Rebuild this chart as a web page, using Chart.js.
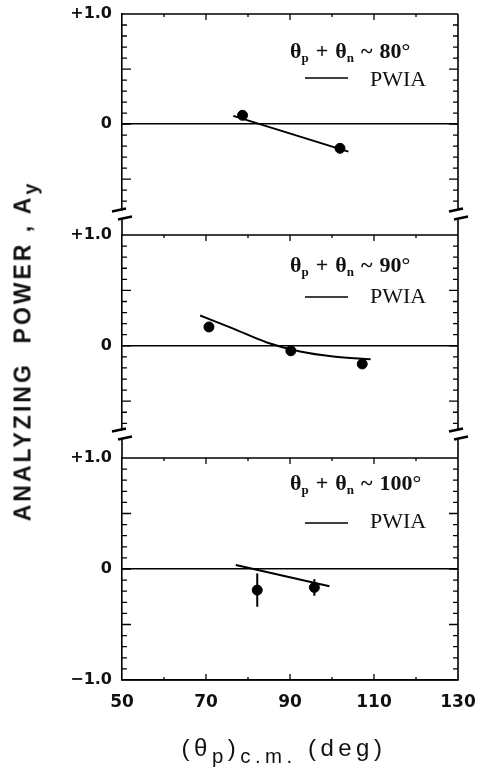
<!DOCTYPE html>
<html>
<head>
<meta charset="utf-8">
<script src="https://cdn.jsdelivr.net/npm/chart.js@4.4.1/dist/chart.umd.min.js"></script>
<style>
  html, body { margin: 0; padding: 0; background: #fff; }
  #wrap { position: relative; width: 478px; height: 767px; overflow: hidden; }
  canvas { position: absolute; left: 0; }
  .ytitle {
    position: absolute; left: 23px; top: 351px;
    transform: translate(-50%, -50%) rotate(-90deg);
    font: bold 23px "Liberation Sans", Arial, sans-serif;
    letter-spacing: 3px; white-space: nowrap; color: #111;
  }
  .xtitle {
    position: absolute; left: 284px; top: 748px;
    transform: translate(-50%, -50%);
    font: 24px "Liberation Sans", Arial, sans-serif;
    letter-spacing: 4.5px; white-space: nowrap; color: #111;
  }
  .sub { font-size: 0.85em; position: relative; top: 0.35em; }
</style>
</head>
<body>
<div id="wrap">
  <canvas id="p80" width="478" height="230" style="top:0px"></canvas>
  <canvas id="p90" width="478" height="226" style="top:212px"></canvas>
  <canvas id="p100" width="478" height="337" style="top:430px"></canvas>
  <div class="ytitle">ANALYZING&nbsp; POWER , A<span class="sub">y</span></div>
  <div class="xtitle">(θ<span class="sub">p</span>)<span class="sub">c.m.</span> (deg)</div>
</div>
<script>
// axis ticks
const xTickValues = [50, 70, 90, 110, 130];
const xTickLabels = ["50", "70", "90", "110", "130"];
const yTickValues = [-1, 0, 1];
const yTickLabels = ["\u22121.0", "0", "+1.0"];

// theta_p + theta_n labels for each panel
const panelSums = ["80\u00b0", "90\u00b0", "100\u00b0"];

// 80 deg
const exp80Theta = [78.7, 101.9];
const exp80Ay = [0.08, -0.22];
const exp80Err = [0.03, 0.03];
const pwia80Theta = [76.5, 103.9];
const pwia80Ay = [0.075, -0.25];

// 90 deg
const exp90Theta = [70.7, 90.2, 107.2];
const exp90Ay = [0.17, -0.045, -0.164];
const exp90Err = [0.03, 0.03, 0.03];
const pwia90Theta = [68.6, 76.5, 84.5, 92.4, 100.3, 109.2];
const pwia90Ay = [0.273, 0.155, 0.03, -0.052, -0.097, -0.121];

// 100 deg
const exp100Theta = [82.2, 95.8];
const exp100Ay = [-0.19, -0.166];
const exp100Err = [0.15, 0.075];
const pwia100Theta = [77.1, 99.4];
const pwia100Ay = [0.036, -0.155];

function pts(xs, ys) {
  return xs.map((x, i) => ({ x: x, y: ys[i] }));
}
function near(a, b) { return Math.abs(a - b) < 1e-6; }

// frame, inward ticks, axis breaks
const framePlugin = {
  id: "frame",
  afterDraw(chart, args, opts) {
    const ctx = chart.ctx;
    const a = chart.chartArea;
    const xs = chart.scales.x, ys = chart.scales.y;
    ctx.save();
    ctx.strokeStyle = "#000";
    ctx.lineWidth = 1.6;
    ctx.beginPath();
    ctx.moveTo(a.left, a.top); ctx.lineTo(a.right, a.top);
    ctx.moveTo(a.right, a.top); ctx.lineTo(a.right, a.bottom);
    if (opts.bottomAxis) { ctx.moveTo(a.left, a.bottom); ctx.lineTo(a.right, a.bottom); }
    if (opts.extTop) {
      ctx.moveTo(a.left, a.top - opts.extTop); ctx.lineTo(a.left, a.top);
      ctx.moveTo(a.right, a.top - opts.extTop); ctx.lineTo(a.right, a.top);
    }
    ctx.stroke();

    // x ticks
    ctx.lineWidth = 1.3;
    ctx.beginPath();
    xs.ticks.forEach(t => {
      const px = xs.getPixelForValue(t.value);
      if (px <= a.left + 1 || px >= a.right - 1) return;
      const len = xTickValues.some(v => near(v, t.value)) ? 6 : 3;
      ctx.moveTo(px, a.top); ctx.lineTo(px, a.top + len);
      if (opts.bottomAxis) { ctx.moveTo(px, a.bottom); ctx.lineTo(px, a.bottom - len); }
    });
    // y ticks
    ys.ticks.forEach(t => {
      const v10 = t.value * 10;
      if (!near(v10, Math.round(v10))) return;
      const py = ys.getPixelForValue(t.value);
      if (py <= a.top + 1 || py >= a.bottom - 1) return;
      const len = near(t.value * 2, Math.round(t.value * 2)) ? 9 : 5;
      ctx.moveTo(a.left, py); ctx.lineTo(a.left + len, py);
      ctx.moveTo(a.right, py); ctx.lineTo(a.right - len, py);
    });
    ctx.stroke();

    // break marks
    ctx.lineWidth = 2.6;
    ctx.beginPath();
    const brk = (x, y, dx) => { ctx.moveTo(x - 7 + dx, y + 1.5); ctx.lineTo(x + 7 + dx, y - 1.5); };
    if (opts.breakBottom) { brk(a.left, a.bottom, -3); brk(a.right, a.bottom, -2); }
    if (opts.extTop) { brk(a.left, a.top - opts.extTop, 3); brk(a.right, a.top - opts.extTop, 3); }
    ctx.stroke();
    ctx.restore();
  }
};

// error bars on the measured points
const errorPlugin = {
  id: "errbars",
  afterDatasetsDraw(chart) {
    const ctx = chart.ctx;
    const xs = chart.scales.x, ys = chart.scales.y;
    ctx.save();
    ctx.strokeStyle = "#000";
    ctx.lineWidth = 2;
    chart.data.datasets.forEach(ds => {
      if (!ds.errorBars) return;
      ds.data.forEach((p, i) => {
        const px = xs.getPixelForValue(p.x);
        ctx.beginPath();
        ctx.moveTo(px, ys.getPixelForValue(p.y + ds.errorBars[i]));
        ctx.lineTo(px, ys.getPixelForValue(p.y - ds.errorBars[i]));
        ctx.stroke();
      });
    });
    ctx.restore();
  }
};

// in-panel label: theta_p + theta_n ~ N deg, and PWIA line key
const labelPlugin = {
  id: "panelLabel",
  afterDraw(chart, args, opts) {
    const ctx = chart.ctx;
    const a = chart.chartArea;
    ctx.save();
    ctx.fillStyle = "#111";
    ctx.textBaseline = "alphabetic";
    ctx.textAlign = "left";
    const big = "bold 22px 'Liberation Serif', 'Times New Roman', serif";
    const small = "bold 13px 'Liberation Serif', 'Times New Roman', serif";
    let x = 290;
    const y = a.top + opts.textY;
    // [text, font, baseline shift, gap before, gap after]
    const parts = [
      ["\u03b8", big, 0, 0, 0], ["p", small, 4, 0, 0], ["+", big, 0, 7, 7], ["\u03b8", big, 0, 0, 0],
      ["n", small, 4, 0, 0], ["~", big, 0, 7, 7], [opts.sum, big, 0, 0, 0],
    ];
    parts.forEach(p => {
      ctx.font = p[1];
      x += p[3];
      ctx.fillText(p[0], x, y + p[2]);
      x += ctx.measureText(p[0]).width + p[4];
    });
    ctx.strokeStyle = "#000";
    ctx.lineWidth = 1.6;
    ctx.beginPath();
    ctx.moveTo(305, a.top + opts.lineY);
    ctx.lineTo(348, a.top + opts.lineY);
    ctx.stroke();
    ctx.font = "22px 'Liberation Serif', 'Times New Roman', serif";
    ctx.fillText("PWIA", 370, a.top + opts.pwiaY);
    ctx.restore();
  }
};

function makePanel(id, cfg) {
  const ctx = document.getElementById(id).getContext("2d");
  return new Chart(ctx, {
    type: "scatter",
    data: {
      datasets: [
        {
          label: "PWIA",
          data: cfg.pwia,
          showLine: true,
          borderColor: "#000",
          borderWidth: 2,
          pointRadius: 0,
          cubicInterpolationMode: "monotone",
          order: 2,
        },
        {
          label: "data",
          data: cfg.exp,
          errorBars: cfg.err,
          showLine: false,
          pointRadius: 5,
          pointBackgroundColor: "#000",
          pointBorderColor: "#000",
          order: 1,
        },
      ],
    },
    options: {
      responsive: false,
      animation: false,
      devicePixelRatio: 1,
      layout: { padding: { left: 0, right: 20, top: cfg.padTop, bottom: cfg.padBottom } },
      plugins: {
        legend: { display: false },
        tooltip: { enabled: false },
        frame: cfg.frame,
        panelLabel: cfg.label,
      },
      scales: {
        x: {
          type: "linear",
          min: 50,
          max: 130,
          display: cfg.showX,
          border: { display: true, color: "#000", width: 1.6 },
          grid: { display: false, drawTicks: false },
          ticks: {
            stepSize: 10,
            autoSkip: false,
            maxRotation: 0,
            padding: 12,
            color: "#111",
            font: { family: "'DejaVu Sans', sans-serif", size: 17, weight: "bold" },
            callback: v => {
              const i = xTickValues.findIndex(t => near(t, v));
              return i >= 0 ? xTickLabels[i] : "";
            },
          },
          afterFit: s => {
            s.paddingLeft = 0;
            s.paddingRight = 0;
            if (cfg.showX) s.height = 87;
          },
        },
        y: {
          type: "linear",
          min: cfg.yMin,
          max: 1,
          border: { display: true, color: "#000", width: 1.6 },
          grid: {
            drawTicks: false,
            lineWidth: 1.6,
            color: c => (c.tick && near(c.tick.value, 0) ? "#000" : "rgba(0,0,0,0)"),
          },
          ticks: {
            stepSize: 0.1,
            autoSkip: false,
            includeBounds: false,
            padding: 10,
            color: "#111",
            font: { family: "'DejaVu Sans', sans-serif", size: 16, weight: "bold" },
            callback: v => {
              const i = yTickValues.findIndex(t => near(t, v));
              return i >= 0 ? yTickLabels[i] : "";
            },
          },
          afterFit: s => {
            s.width = 122;
            s.paddingTop = 0;
            s.paddingBottom = 0;
          },
        },
      },
    },
    plugins: [framePlugin, errorPlugin, labelPlugin],
  });
}

makePanel("p80", {
  exp: pts(exp80Theta, exp80Ay), err: exp80Err, pwia: pts(pwia80Theta, pwia80Ay),
  yMin: -0.78, padTop: 14, padBottom: 20, showX: false,
  frame: { breakBottom: true, extTop: 0, bottomAxis: false },
  label: { sum: panelSums[0], textY: 44, lineY: 64, pwiaY: 72 },
});
makePanel("p90", {
  exp: pts(exp90Theta, exp90Ay), err: exp90Err, pwia: pts(pwia90Theta, pwia90Ay),
  yMin: -0.76, padTop: 23, padBottom: 8, showX: false,
  frame: { breakBottom: true, extTop: 17, bottomAxis: false },
  label: { sum: panelSums[1], textY: 37, lineY: 62, pwiaY: 68 },
});
makePanel("p100", {
  exp: pts(exp100Theta, exp100Ay), err: exp100Err, pwia: pts(pwia100Theta, pwia100Ay),
  yMin: -1, padTop: 28, padBottom: 0, showX: true,
  frame: { breakBottom: false, extTop: 20, bottomAxis: true },
  label: { sum: panelSums[2], textY: 32, lineY: 65, pwiaY: 70 },
});
</script>
</body>
</html>
